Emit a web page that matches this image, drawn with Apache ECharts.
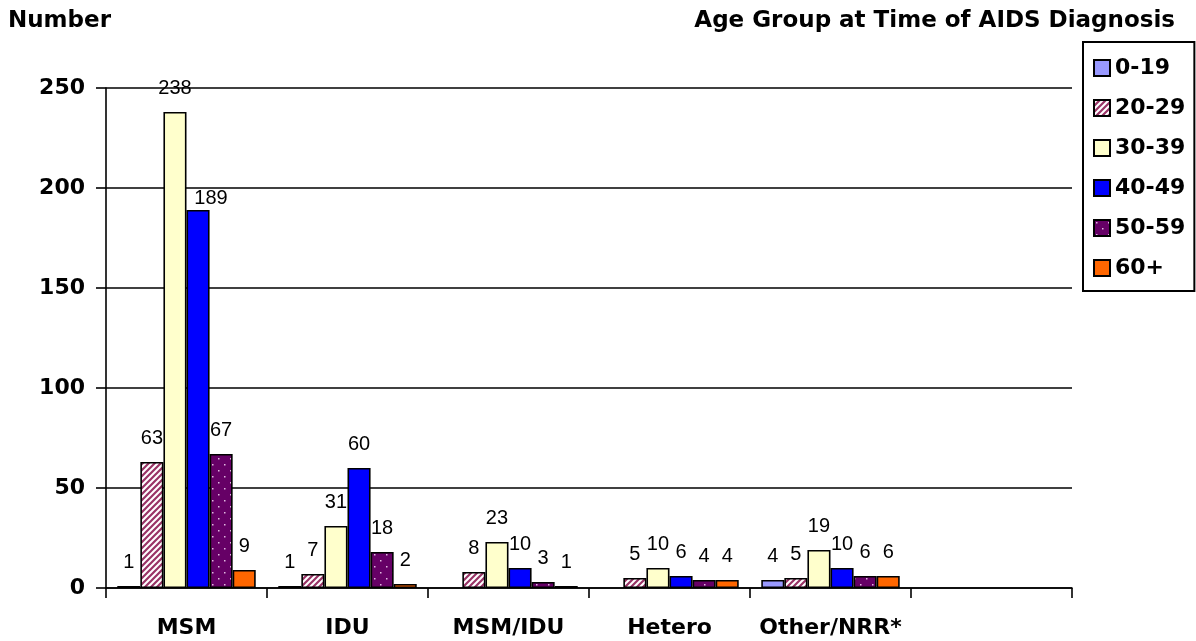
<!DOCTYPE html>
<html>
<head>
<meta charset="utf-8">
<script src="https://cdn.jsdelivr.net/npm/echarts@6/dist/echarts.min.js"></script>
<style>
  html, body { margin: 0; padding: 0; background: #fff; }
  #chart { width: 1196px; height: 641px; }
</style>
</head>
<body>
<div id="chart"></div>
<script>
// risk groups along the x axis, the last slot is empty in the original
var categories = ['MSM', 'IDU', 'MSM/IDU', 'Hetero', 'Other/NRR*', ''];
var ageGroups = ['0-19', '20-29', '30-39', '40-49', '50-59', '60+'];
var age0to19 = [1, 1, null, null, 4, null];
var age20to29 = [63, 7, 8, 5, 5, null];
var age30to39 = [238, 31, 23, 10, 19, null];
var age40to49 = [189, 60, 10, 6, 10, null];
var age50to59 = [67, 18, 3, 4, 6, null];
var age60plus = [9, 2, 1, 4, 6, null];
var yTicks = [0, 50, 100, 150, 200, 250];

var boldFont = 'DejaVu Sans';

function stripes() {
  var c = document.createElement('canvas');
  c.width = 6; c.height = 6;
  var ctx = c.getContext('2d');
  ctx.fillStyle = '#fff';
  ctx.fillRect(0, 0, 6, 6);
  ctx.strokeStyle = '#993366';
  ctx.lineWidth = 2.2;
  ctx.beginPath();
  ctx.moveTo(-3, 3); ctx.lineTo(3, -3);
  ctx.moveTo(0, 6); ctx.lineTo(6, 0);
  ctx.moveTo(3, 9); ctx.lineTo(9, 3);
  ctx.stroke();
  return c;
}

function dots() {
  var c = document.createElement('canvas');
  c.width = 12; c.height = 12;
  var ctx = c.getContext('2d');
  ctx.fillStyle = '#660066';
  ctx.fillRect(0, 0, 12, 12);
  ctx.fillStyle = '#e0b8e0';
  ctx.fillRect(2, 2, 1.5, 1.5);
  ctx.fillRect(8, 8, 1.5, 1.5);
  return c;
}

var fills = [
  '#9999FF',
  { image: stripes(), repeat: 'repeat' },
  '#FFFFCC',
  '#0000FF',
  { image: dots(), repeat: 'repeat' },
  '#FF6600'
];
var values = [age0to19, age20to29, age30to39, age40to49, age50to59, age60plus];

var series = ageGroups.map(function (name, i) {
  var data = values[i].map(function (v) { return v; });
  // the MSM 40-49 label sits lower and to the right in the original
  if (i === 3) data[0] = { value: values[i][0], label: { offset: [13, 12] } };
  return {
    name: name,
    type: 'bar',
    data: data,
    barGap: '0%',
    barCategoryGap: '14%',
    itemStyle: { color: fills[i], borderColor: '#000', borderWidth: 1.6 },
    label: {
      show: true,
      position: 'top',
      distance: 14,
      fontFamily: 'Liberation Sans, Arial, sans-serif',
      fontSize: 20,
      color: '#000'
    }
  };
});

var chart = echarts.init(document.getElementById('chart'));
chart.setOption({
  animation: false,
  title: [
    {
      text: 'Number', left: 8, top: 10, padding: 0,
      textStyle: { fontFamily: boldFont, fontWeight: 'bold', fontSize: 23, color: '#000' }
    },
    {
      text: 'Age Group at Time of AIDS Diagnosis', right: 21, top: 10, padding: 0,
      textStyle: { fontFamily: boldFont, fontWeight: 'bold', fontSize: 23, color: '#000' }
    }
  ],
  legend: {
    orient: 'vertical',
    left: 1083,
    top: 42,
    data: ageGroups,
    icon: 'rect',
    itemWidth: 16,
    itemHeight: 16,
    itemGap: 18,
    padding: [15, 9, 12, 10],
    borderColor: '#000',
    borderWidth: 2,
    selectedMode: false,
    textStyle: { fontFamily: boldFont, fontWeight: 'bold', fontSize: 22, color: '#000', lineHeight: 20 }
  },
  grid: { left: 106, right: 124, top: 88, bottom: 53 },
  xAxis: {
    type: 'category',
    data: categories,
    axisLine: { lineStyle: { color: '#000', width: 1.6 } },
    axisTick: { show: true, interval: 0, length: 10, lineStyle: { color: '#000', width: 1.6 } },
    axisLabel: {
      interval: 0,
      margin: 29,
      fontFamily: boldFont, fontWeight: 'bold', fontSize: 22, color: '#000'
    }
  },
  yAxis: {
    type: 'value',
    min: yTicks[0],
    max: yTicks[yTicks.length - 1],
    interval: 50,
    axisLine: { show: true, lineStyle: { color: '#000', width: 1.6 } },
    axisTick: { show: true, length: 10, lineStyle: { color: '#000', width: 1.6 } },
    splitLine: { lineStyle: { color: '#000', width: 1.6 } },
    axisLabel: {
      margin: 21,
      fontFamily: boldFont, fontWeight: 'bold', fontSize: 22, color: '#000'
    }
  },
  series: series
});
</script>
</body>
</html>
